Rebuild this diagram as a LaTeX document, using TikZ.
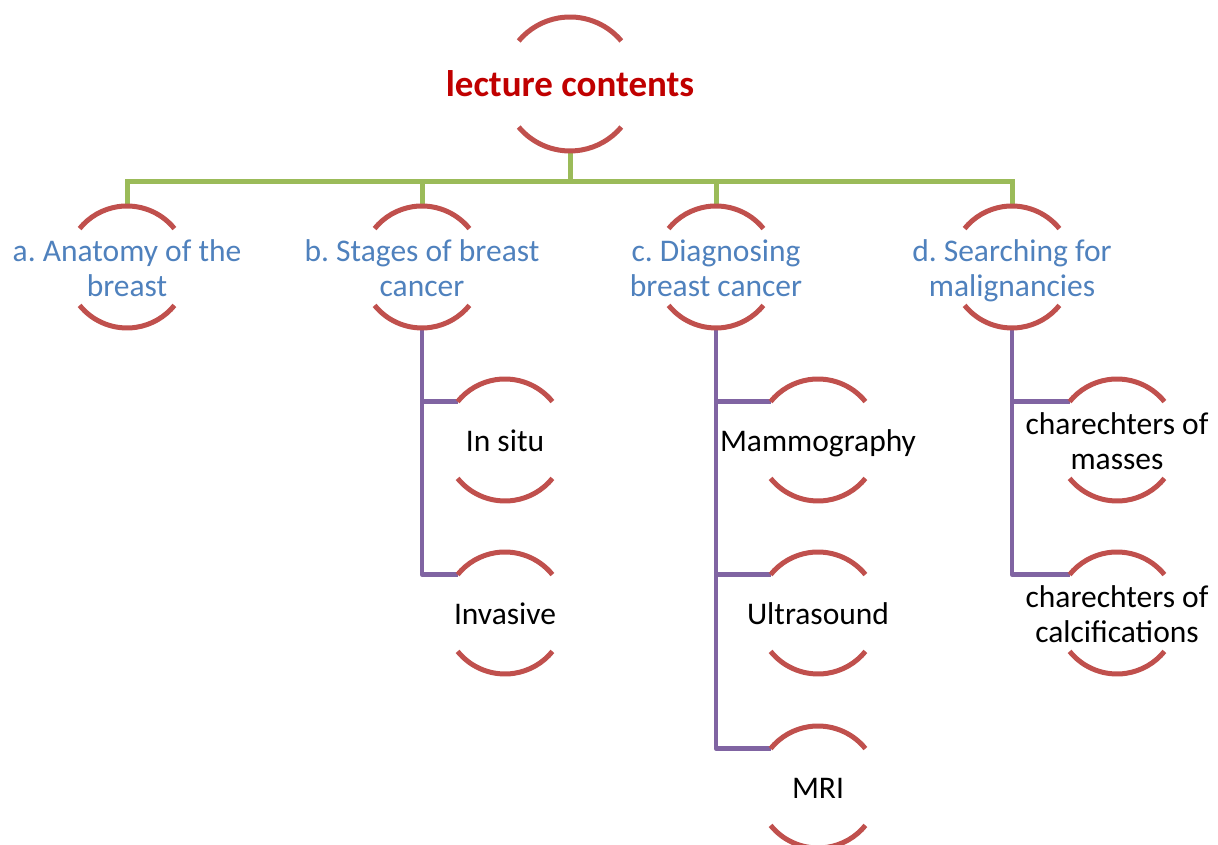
\documentclass[tikz,border=0pt]{standalone}
\usepackage{fontspec}
\setmainfont{Carlito}
\usetikzlibrary{calc}
\definecolor{arcred}{HTML}{C0504D}
\definecolor{titlered}{HTML}{C00000}
\definecolor{lvlblue}{HTML}{4F81BD}
\definecolor{lvlgreen}{HTML}{9BBB59}
\definecolor{lvlpurple}{HTML}{8064A2}
\newcommand\lnst{\rule[-5.5pt]{0pt}{35pt}}
\frenchspacing
\begin{document}
\begin{tikzpicture}[x=1pt,y=1pt,
  lbl/.style={align=center, inner sep=0pt, font=\fontsize{31.5}{35}\selectfont},
  ttl/.style={inner sep=0pt, text=titlered, font=\fontsize{37}{42}\selectfont\bfseries},
  lone/.style={lbl, text=lvlblue},
  ltwo/.style={lbl, text=black},
  arcs/.style={draw=arcred, line width=5pt},
  grn/.style={draw=lvlgreen, line width=5pt},
  pur/.style={draw=lvlpurple, line width=4.5pt, line join=round}]
\useasboundingbox (0,0) rectangle (1218,845);
% nodes
\node[ttl] (top) at (570,761) {lecture contents};
\node[lone] (a) at (127,578) {\lnst a. Anatomy of the\\\lnst breast};
\node[lone] (b) at (422,578) {\lnst b. Stages of breast\\\lnst cancer};
\node[lone] (c) at (716,578) {\lnst c. Diagnosing\\\lnst breast cancer};
\node[lone] (d) at (1012,578) {\lnst d. Searching for\\\lnst malignancies};
\node[ltwo] (insitu) at (505,405) {\lnst In situ};
\node[ltwo] (invasive) at (505,232) {\lnst Invasive};
\node[ltwo] (mammo) at (818,405) {\lnst Mammography};
\node[ltwo] (ultra) at (818,232) {\lnst Ultrasound};
\node[ltwo] (mri) at (818,58) {\lnst MRI};
\node[ltwo] (masses) at (1117,405) {\lnst charechters of\\\lnst masses};
\node[ltwo] (calc) at (1117,232) {\lnst charechters of\\\lnst calcifications};
% green connectors
\foreach \n in {a,b,c,d}
  \draw[grn] ($(top.center)+(0,-67)$) -- ++(0,-31) -| ($(\n.center)+(0,61)$);
% purple connectors
\foreach \p/\k in {b/insitu,b/invasive,c/mammo,c/ultra,c/mri,d/masses,d/calc}
  \draw[pur] ($(\p.center)+(0,-61)$) |- ($(\k.center)+(141:61)$);
% arcs
\draw[arcs] (top.center) ++(40:67) arc[start angle=40, end angle=140, radius=67];
\draw[arcs] (top.center) ++(220:67) arc[start angle=220, end angle=320, radius=67];
\foreach \n in {a,b,c,d,insitu,invasive,mammo,ultra,mri,masses,calc}{
  \draw[arcs] (\n.center) ++(39:61) arc[start angle=39, end angle=141, radius=61];
  \draw[arcs] (\n.center) ++(219:61) arc[start angle=219, end angle=321, radius=61];
}
\end{tikzpicture}
\end{document}
